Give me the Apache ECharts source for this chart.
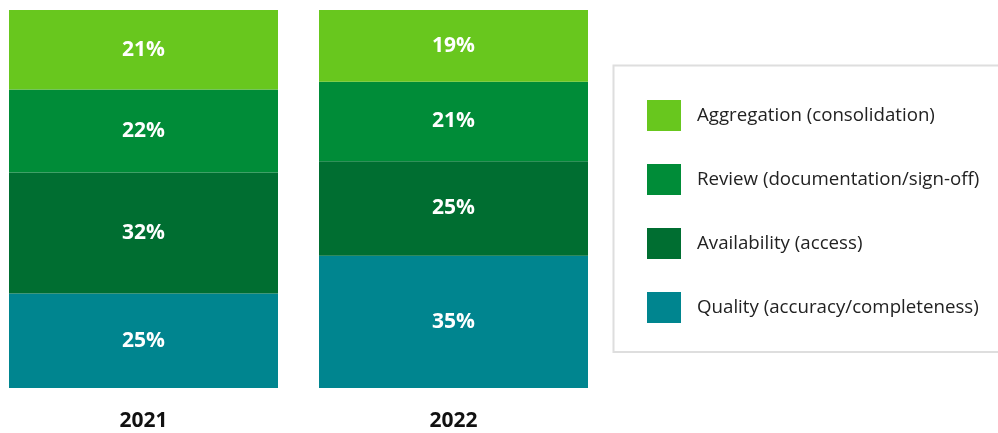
<!DOCTYPE html>
<html>
<head>
<meta charset="utf-8">
<script src="https://cdn.jsdelivr.net/npm/echarts@6/dist/echarts.min.js"></script>
<style>
html,body{margin:0;padding:0;background:#fff;}
#chart{width:998px;height:433px;}
</style>
</head>
<body>
<div id="chart"></div>
<script>
const years = ['2021', '2022'];
const seriesNames = ['Quality (accuracy/completeness)', 'Availability (access)', 'Review (documentation/sign-off)', 'Aggregation (consolidation)'];
const quality = [25, 35];
const availability = [32, 25];
const review = [22, 21];
const aggregation = [21, 19];
const legendOrder = ['Aggregation (consolidation)', 'Review (documentation/sign-off)', 'Availability (access)', 'Quality (accuracy/completeness)'];
const colors = ['#00858F', '#006E31', '#008C38', '#68C71E'];

const values = [quality, availability, review, aggregation];
const FONT = '"Open Sans", sans-serif';

const chart = echarts.init(document.getElementById('chart'), null, {renderer: 'canvas'});
chart.setOption({
  animation: false,
  grid: {left: 143.5, top: 10, width: 310, height: 378, containLabel: false},
  xAxis: {
    type: 'category', data: years, boundaryGap: false,
    axisLine: {show: false}, axisTick: {show: false},
    axisLabel: {fontFamily: FONT, fontWeight: 'bold', fontSize: 21, color: '#111', margin: 23}
  },
  yAxis: {type: 'value', min: 0, max: 100, show: false, splitLine: {show: false}},
  legend: {
    data: legendOrder, orient: 'vertical', left: 642, top: 95,
    itemWidth: 34, itemHeight: 31, itemGap: 33,
    icon: 'rect',
    textStyle: {fontFamily: FONT, fontSize: 18.7, color: '#222', padding: [0, 0, 0, 11]}
  },
  graphic: [{
    type: 'rect', shape: {x: 613.5, y: 65.5, width: 400, height: 286.5},
    style: {fill: 'none', stroke: '#dedede', lineWidth: 2}, z: -1
  }],
  series: seriesNames.map((n, i) => ({
    name: n, type: 'bar', stack: 'total', barWidth: 269, clip: false,
    data: values[i],
    itemStyle: {color: colors[i]},
    label: {show: true, position: 'inside', formatter: '{c}%', fontFamily: FONT, fontWeight: 'bold', fontSize: 21, color: '#fff'}
  }))
});
</script>
</body>
</html>
